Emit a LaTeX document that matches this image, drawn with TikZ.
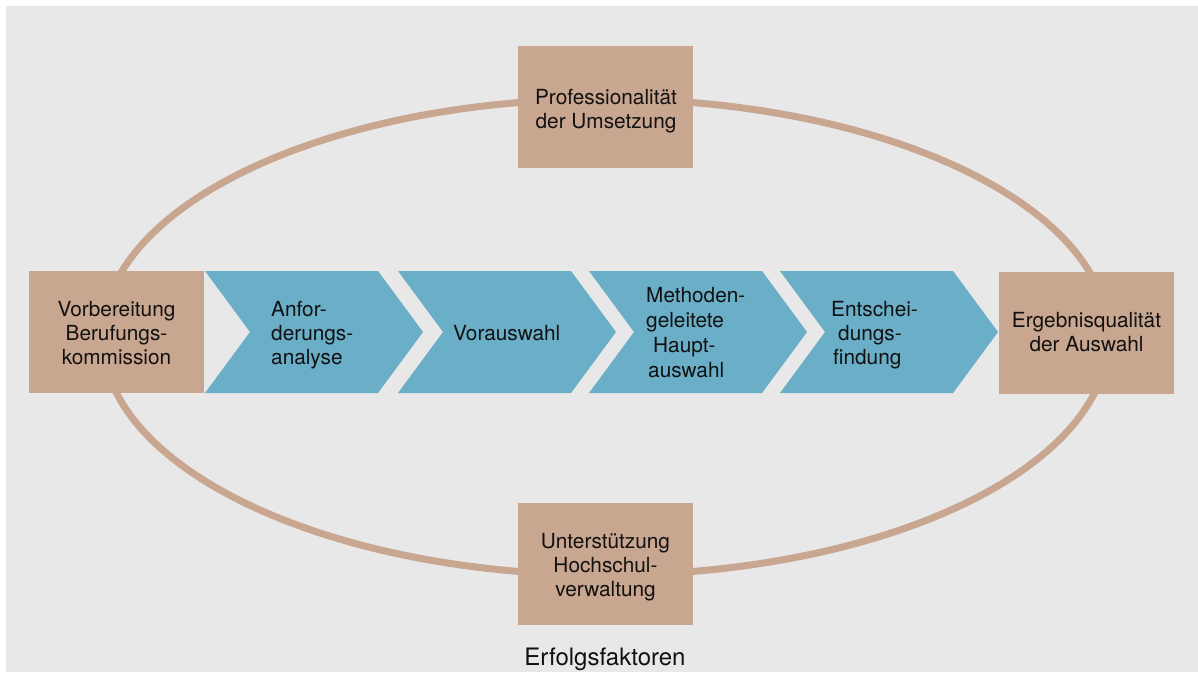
\documentclass[tikz,border=0pt]{standalone}
\usepackage{fontspec}
\setmainfont{TeX Gyre Heros}
\definecolor{bggrey}{HTML}{E8E8E8}
\definecolor{boxtan}{HTML}{C9A690}
\definecolor{chevblue}{HTML}{6AAEC7}
\definecolor{txt}{HTML}{111111}
\begin{document}
\begin{tikzpicture}[x=1pt,y=-1pt,
  box/.style={fill=boxtan, minimum width=175pt, minimum height=122pt, inner sep=0pt},
  boxtext/.style={align=center, inner sep=0pt, anchor=base, text=txt,
    font=\fontsize{20.8}{24}\selectfont},
  chevtext/.style={align=left, inner sep=0pt, anchor=base west, text=txt,
    font=\fontsize{20.8}{24}\selectfont},
  chevshape/.style={fill=chevblue},
  ring/.style={draw=boxtan, line width=7pt}]
\useasboundingbox (0,0) rectangle (1198,672);
\fill[white] (0,0) rectangle (1198,672);
\fill[bggrey] (6,6) rectangle (1198,672);
% ellipse of success factors
\draw[ring] (605.5,337) ellipse [x radius=503pt, y radius=238pt];
% boxes
\node[box] (vorb) at (116.5,332) {};
\node[box] (ergeb) at (1086.5,332.5) {};
\node[box] (prof) at (605,107) {};
\node[box] (unter) at (605.5,563.5) {};
\node[boxtext] (vorbt) at (116.5,364) {Vorbereitung\\Berufungs-\\kommission};
\node[boxtext] (ergebt) at (1086.5,351) {Ergebnisqualität\\der Auswahl};
\node[boxtext] (proft) at (606,128) {Professionalität\\der Umsetzung};
\node[boxtext] (untert) at (605.5,596) {Unterstützung\\Hochschul-\\verwaltung};
% chevrons
\foreach \x in {205,398,589,780}{
  \fill[chevshape] (\x,271) -- ++(173,0) -- ++(45,61) -- ++(-45,61) -- ++(-173,0) -- ++(45,-61) -- cycle;
}
\node[chevtext] (anf) at (271,364) {Anfor-\\derungs-\\analyse};
\node[chevtext] (vora) at (453,340) {Vorauswahl};
\node[chevtext, font=\fontsize{20.8}{24.7}\selectfont] (meth) at (646,377) {Methoden-\\geleitete\\\hspace*{7pt}Haupt-\\\hspace*{2pt}auswahl};
\node[chevtext] (ents) at (831,364) {Entschei-\\\hspace*{7pt}dungs-\\\hspace*{2pt}findung};
% caption
\node[anchor=base, inner sep=0pt, text=txt, font=\fontsize{24}{28}\selectfont] (erfolg) at (605,665) {Erfolgsfaktoren};
\end{tikzpicture}
\end{document}
